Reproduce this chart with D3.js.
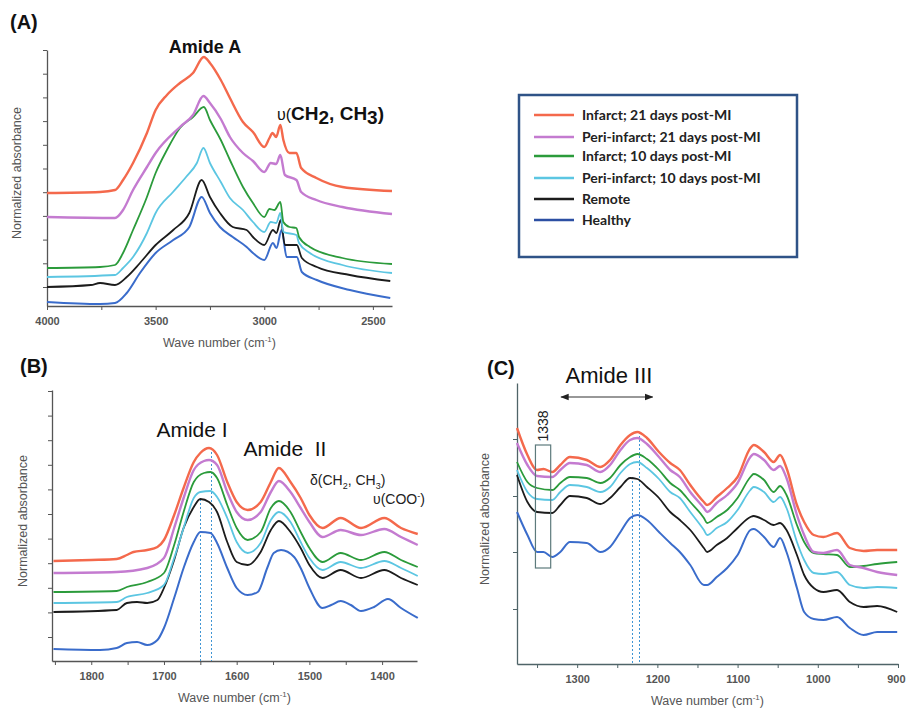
<!DOCTYPE html>
<html>
<head>
<meta charset="utf-8">
<script src="https://cdn.jsdelivr.net/npm/d3@7"></script>
<style>
  body { margin: 0; background: #fff; }
  svg { display: block; font-family: "Liberation Sans", Arial, sans-serif; }
</style>
</head>
<body>
<svg id="chart" width="906" height="713"></svg>
<script>
// series, top to bottom in the legend
const seriesNames = ["Infarct; 21 days post-MI", "Peri-infarct; 21 days post-MI", "Infarct; 10 days post-MI",
  "Peri-infarct; 10 days post-MI", "Remote", "Healthy"];
const seriesColors = ["#f4694c", "#c47bd0", "#2b9b3b", "#5cc6e2", "#1c1c1c", "#3a6ccb"];
const seriesWidths = [2.4, 2.4, 1.8, 1.8, 1.8, 2];

// ---- panel A, 4000-2400 cm-1 (wave number, normalized absorbance a.u.)
const infarct21A = [[4000,113],[3756,114],[3687,116],[3650,126],[3604,143],[3540,173],[3500,196],[3448,211],[3388,223],[3328,233],[3278,249],[3250,243],[3200,226],[3158,208],[3098,184],[3052,174],[3000,159],[2976,168],[2962,173],[2945,169],[2926,181],[2912,166],[2884,153],[2852,153],[2830,138],[2760,128],[2640,119],[2412,115]];
const peri21A = [[4000,89],[3687,88],[3650,96],[3604,116],[3540,139],[3500,153],[3388,179],[3328,191],[3280,210],[3250,203],[3200,187],[3158,169],[3098,153],[3052,145],[3000,134],[2970,143],[2945,142],[2926,151],[2905,131],[2852,126],[2830,114],[2760,106],[2640,99],[2412,92]];
const infarct10A = [[4000,38],[3756,39],[3687,41],[3650,53],[3604,76],[3540,109],[3500,133],[3448,156],[3388,178],[3328,189],[3278,199],[3250,186],[3200,166],[3158,146],[3098,119],[3052,103],[3000,89],[2976,97],[2953,96],[2926,104],[2912,84],[2884,79],[2852,78],[2840,69],[2790,59],[2640,48],[2412,42]];
const peri10A = [[4000,29],[3687,31],[3650,38],[3604,49],[3540,73],[3500,93],[3420,114],[3360,129],[3310,143],[3280,158],[3250,143],[3200,124],[3158,108],[3098,96],[3052,84],[3000,74],[2970,84],[2945,83],[2926,93],[2912,74],[2852,71],[2840,63],[2790,53],[2640,41],[2412,33]];
const remoteA = [[4000,19],[3798,21],[3756,23],[3687,21],[3633,29],[3572,43],[3500,61],[3419,76],[3345,93],[3288,126],[3250,109],[3204,93],[3145,79],[3081,76],[3052,69],[3000,61],[2960,76],[2944,73],[2924,86],[2905,61],[2850,61],[2827,48],[2758,39],[2606,31],[2420,25]];
const healthyA = [[4000,4],[3756,2],[3687,3],[3633,13],[3572,33],[3500,53],[3419,66],[3345,79],[3288,109],[3250,93],[3204,79],[3145,69],[3081,59],[3052,53],[3000,46],[2960,63],[2944,58],[2920,76],[2897,49],[2850,49],[2827,34],[2758,26],[2606,16],[2420,8]];

// ---- panel B, 1850-1350 cm-1
const infarct21B = [[1852,100],[1800,101],[1765,102],[1751,106],[1742,109],[1723,111],[1709,114],[1700,121],[1686,146],[1673,173],[1659,199],[1650,208],[1638,213],[1627,206],[1613,179],[1600,159],[1585,151],[1567,159],[1553,179],[1542,193],[1526,179],[1512,163],[1500,146],[1482,133],[1457,143],[1429,133],[1397,143],[1374,133],[1351,127]];
const peri21B = [[1852,88],[1765,89],[1723,93],[1700,103],[1686,133],[1673,163],[1659,191],[1645,200],[1638,201],[1627,196],[1613,169],[1600,149],[1585,141],[1567,149],[1553,169],[1542,180],[1526,169],[1512,153],[1500,139],[1482,124],[1457,131],[1429,126],[1397,132],[1374,124],[1351,116]];
const infarct10B = [[1852,69],[1765,70],[1751,74],[1723,79],[1700,88],[1686,116],[1673,149],[1659,179],[1645,188],[1636,189],[1627,183],[1613,156],[1600,133],[1585,121],[1567,129],[1553,153],[1542,160],[1526,149],[1512,129],[1500,113],[1482,99],[1457,108],[1429,101],[1397,109],[1374,101],[1351,94]];
const peri10B = [[1852,58],[1765,59],[1751,64],[1723,68],[1700,76],[1686,103],[1673,133],[1659,163],[1650,169],[1636,170],[1627,164],[1613,143],[1600,119],[1585,108],[1567,118],[1553,141],[1542,149],[1526,139],[1512,119],[1500,103],[1482,91],[1457,99],[1429,93],[1397,100],[1374,93],[1351,85]];
const remoteB = [[1852,49],[1765,51],[1751,58],[1737,59],[1723,58],[1709,61],[1700,73],[1686,101],[1673,133],[1659,154],[1650,162],[1638,159],[1627,149],[1613,119],[1600,99],[1585,96],[1567,109],[1553,131],[1542,140],[1526,129],[1512,113],[1500,96],[1482,83],[1457,91],[1429,83],[1397,91],[1374,83],[1351,76]];
const healthyB = [[1852,12],[1788,11],[1765,13],[1751,18],[1737,19],[1723,16],[1709,21],[1700,33],[1686,63],[1673,93],[1659,119],[1650,129],[1636,128],[1627,118],[1613,93],[1600,73],[1585,66],[1571,69],[1558,93],[1549,108],[1539,111],[1521,104],[1512,93],[1500,73],[1482,53],[1470,56],[1457,60],[1443,56],[1429,50],[1411,54],[1392,62],[1374,53],[1351,43]];

// ---- panel C, 1375-900 cm-1
const infarct21C = [[1375,236],[1362,209],[1350,194],[1342,195],[1331,192],[1321,199],[1309,207],[1288,204],[1271,197],[1259,204],[1246,219],[1234,229],[1225,232],[1213,226],[1198,212],[1184,201],[1172,194],[1159,179],[1142,162],[1138,159],[1126,167],[1113,176],[1100,187],[1084,216],[1080,219],[1067,212],[1055,202],[1047,209],[1039,196],[1026,159],[1017,142],[1005,129],[993,127],[976,131],[960,116],[943,113],[926,114],[901,114]];
const peri21C = [[1375,221],[1362,199],[1350,188],[1331,187],[1321,194],[1309,201],[1288,199],[1271,192],[1259,199],[1246,214],[1234,224],[1225,226],[1213,220],[1198,207],[1184,194],[1172,187],[1159,172],[1142,156],[1138,152],[1126,161],[1113,169],[1100,181],[1084,207],[1080,210],[1067,204],[1055,194],[1047,198],[1039,186],[1026,149],[1017,129],[1005,112],[993,111],[976,114],[960,99],[943,96],[926,92],[901,89]];
const infarct10C = [[1375,202],[1362,182],[1350,176],[1331,174],[1321,181],[1309,187],[1288,186],[1271,181],[1259,186],[1246,199],[1234,207],[1225,210],[1213,205],[1198,194],[1184,181],[1172,174],[1159,162],[1142,146],[1138,141],[1126,147],[1113,154],[1100,166],[1084,187],[1080,190],[1067,184],[1055,172],[1047,178],[1039,169],[1026,139],[1017,122],[1005,111],[993,110],[976,109],[960,97],[943,98],[926,100],[901,102]];
const peri10C = [[1375,194],[1362,172],[1350,165],[1331,164],[1321,172],[1309,179],[1288,177],[1271,172],[1259,177],[1246,191],[1234,200],[1225,202],[1213,196],[1198,185],[1184,172],[1172,166],[1159,152],[1142,134],[1138,129],[1126,136],[1113,142],[1100,154],[1084,174],[1080,177],[1067,172],[1055,162],[1047,167],[1039,156],[1026,122],[1017,104],[1005,91],[993,90],[976,92],[960,79],[943,76],[926,77],[901,76]];
const remoteC = [[1375,189],[1362,162],[1350,152],[1331,151],[1321,159],[1309,168],[1288,166],[1271,160],[1259,166],[1246,177],[1234,186],[1225,185],[1213,177],[1198,166],[1184,152],[1172,144],[1159,134],[1142,116],[1138,112],[1126,119],[1113,126],[1100,136],[1084,147],[1080,148],[1067,144],[1055,139],[1047,141],[1039,134],[1026,109],[1017,89],[1005,76],[993,72],[976,74],[960,62],[943,57],[926,58],[901,52]];
const healthyC = [[1375,152],[1362,129],[1350,112],[1342,112],[1331,107],[1321,112],[1309,122],[1288,121],[1271,112],[1259,117],[1246,132],[1234,146],[1225,149],[1213,144],[1198,132],[1184,121],[1172,112],[1159,99],[1142,79],[1138,79],[1126,87],[1113,96],[1100,109],[1084,134],[1080,135],[1067,127],[1055,117],[1047,126],[1039,112],[1026,76],[1017,52],[1005,45],[993,44],[976,47],[960,36],[943,29],[926,32],[901,32]];

// x tick labels
const xTicksA = [4000, 3500, 3000, 2500];
const xTicksB = [1800, 1700, 1600, 1500, 1400];
const xTicksC = [1300, 1200, 1100, 1000, 900];

// dotted peak markers [wave number, top absorbance]
const peakLinesB = [[1651, 162], [1635, 213]];
const peakLinesC = [[1232, 187], [1223, 232]];

const svg = d3.select("#chart");
const FONT = "'Liberation Sans', Arial, sans-serif";

function drawPanel(p) {
  const g = svg.append("g");
  const x = d3.scaleLinear().domain(p.xDomain).range([p.left, p.right]);
  const y = d3.scaleLinear().domain(p.yDomain).range([p.bottom, p.top]);

  // minor + major x ticks
  const xAll = d3.range(p.xDomain[0] - (p.xDomain[0] % p.minor), p.xDomain[1] - 1, -p.minor)
    .filter(v => v <= p.xDomain[0] && v >= p.xDomain[1]);
  const xAxis = g.append("g").attr("transform", `translate(0,${p.bottom})`)
    .call(d3.axisBottom(x).tickValues(xAll).tickSize(4).tickSizeOuter(0)
      .tickFormat(v => p.labels.includes(v) ? v : ""));
  xAxis.attr("font-family", FONT);
  xAxis.select(".domain").attr("stroke", p.axisColor).attr("stroke-width", 1.3);
  xAxis.selectAll(".tick line").attr("stroke", p.axisColor);
  xAxis.selectAll("text").attr("font-size", 11).attr("font-weight", "bold")
    .attr("fill", "#555").attr("dy", "1.05em");
  if (p.lastLabelEnd) {
    xAxis.selectAll(".tick").filter(v => v === p.labels[p.labels.length - 1])
      .select("text").attr("text-anchor", "end").attr("x", p.lastLabelEnd);
  }

  const yAxis = g.append("g").attr("transform", `translate(${p.left},0)`)
    .call(d3.axisLeft(y).tickValues(p.yTicks).tickSize(4).tickSizeOuter(0).tickFormat(""));
  yAxis.select(".domain").attr("stroke", p.axisColor).attr("stroke-width", 1.3);
  yAxis.selectAll(".tick line").attr("stroke", p.axisColor);

  const xt = g.append("text").attr("x", (p.left + p.right) / 2).attr("y", p.bottom + 41)
    .attr("text-anchor", "middle").attr("font-size", 12.5).attr("fill", "#555");
  xt.append("tspan").text("Wave number (cm");
  xt.append("tspan").attr("dy", -5).attr("font-size", 8).text("-1");
  xt.append("tspan").attr("dy", 5).text(")");

  g.append("text")
    .attr("transform", `translate(${p.ylabX},${p.ylabY}) rotate(-90)`)
    .attr("text-anchor", "middle").attr("font-size", 12.5).attr("fill", "#555")
    .text(p.ylab);

  // peak markers
  (p.peaks || []).forEach(pk => {
    const px = Math.round(x(pk[0])) + 0.5;
    g.append("line").attr("x1", px).attr("x2", px)
      .attr("y1", y(pk[1])).attr("y2", p.bottom)
      .attr("stroke", "#3f95d4").attr("stroke-width", 1).attr("stroke-dasharray", "2,2");
  });

  const line = d3.line().x(d => x(d[0])).y(d => y(d[1])).curve(d3.curveMonotoneX);
  const series = p.data.map((d, i) => ({ d, i })).reverse();
  g.selectAll("path.spec").data(series).join("path").attr("class", "spec")
    .attr("d", s => line(s.d)).attr("fill", "none")
    .attr("stroke", s => seriesColors[s.i]).attr("stroke-width", s => seriesWidths[s.i])
    .attr("stroke-linejoin", "round");

  g.append("text").attr("x", p.tagX).attr("y", p.tagY).attr("font-size", 20)
    .attr("font-weight", "bold").attr("fill", "#111").text(p.tag);
  return { g, x, y };
}

// ---- A
const A = drawPanel({
  xDomain: [4000, 2412], yDomain: [0, 256], left: 47, right: 392, top: 50, bottom: 306,
  minor: 250, labels: xTicksA, yTicks: d3.range(11).map(k => 19 + k * 23.7),
  axisColor: "#555", ylab: "Normalized absorbance", ylabX: 21, ylabY: 173,
  data: [infarct21A, peri21A, infarct10A, peri10A, remoteA, healthyA], tag: "(A)", tagX: 10, tagY: 29
});
A.g.append("text").attr("x", 205).attr("y", 53).attr("text-anchor", "middle")
  .attr("font-size", 18).attr("font-weight", "bold").attr("fill", "#111").text("Amide A");
const ch = A.g.append("text").attr("x", 277).attr("y", 120).attr("fill", "#111");
ch.append("tspan").attr("font-size", 16).text("υ(");
ch.append("tspan").attr("font-size", 19).attr("font-weight", "bold").text("CH");
ch.append("tspan").attr("font-size", 19).attr("font-weight", "bold").attr("dy", 4).text("2");
ch.append("tspan").attr("font-size", 19).attr("font-weight", "bold").attr("dy", -4).text(", CH");
ch.append("tspan").attr("font-size", 19).attr("font-weight", "bold").attr("dy", 4).text("3");
ch.append("tspan").attr("font-size", 19).attr("font-weight", "bold").attr("dy", -4).text(")");

// ---- B
const B = drawPanel({
  xDomain: [1854, 1352], yDomain: [0, 271], left: 52, right: 417, top: 390, bottom: 661,
  minor: 50, labels: xTicksB, yTicks: d3.range(11).map(k => 24 + k * 24.6),
  axisColor: "#555", ylab: "Normalized absorbance", ylabX: 27, ylabY: 521,
  data: [infarct21B, peri21B, infarct10B, peri10B, remoteB, healthyB], peaks: peakLinesB,
  tag: "(B)", tagX: 20, tagY: 373
});
B.g.append("text").attr("x", 192).attr("y", 437).attr("text-anchor", "middle")
  .attr("font-size", 21).attr("fill", "#111").text("Amide I");
B.g.append("text").attr("x", 285).attr("y", 456).attr("text-anchor", "middle")
  .attr("font-size", 21).attr("fill", "#111").attr("xml:space", "preserve").text("Amide  II");
const dl = B.g.append("text").attr("x", 310).attr("y", 485).attr("font-size", 14).attr("fill", "#222");
dl.append("tspan").text("δ(CH");
dl.append("tspan").attr("font-size", 9).attr("dy", 4).text("2");
dl.append("tspan").attr("dy", -4).text(", CH");
dl.append("tspan").attr("font-size", 9).attr("dy", 4).text("3");
dl.append("tspan").attr("dy", -4).text(")");
const co = B.g.append("text").attr("x", 373).attr("y", 504).attr("font-size", 14).attr("fill", "#222");
co.append("tspan").text("υ(COO");
co.append("tspan").attr("font-size", 9).attr("dy", -5).text("-");
co.append("tspan").attr("dy", 5).text(")");

// ---- C
const C = drawPanel({
  xDomain: [1375, 900], yDomain: [0, 281], left: 517, right: 898, top: 383, bottom: 664,
  minor: 50, labels: xTicksC, yTicks: [55, 112, 168, 225], lastLabelEnd: 7,
  axisColor: "#4f6468", ylab: "Normalized abosrbance", ylabX: 489, ylabY: 519,
  data: [infarct21C, peri21C, infarct10C, peri10C, remoteC, healthyC], peaks: peakLinesC,
  tag: "(C)", tagX: 487, tagY: 375
});
C.g.append("text").attr("x", 609).attr("y", 383).attr("text-anchor", "middle")
  .attr("font-size", 22).attr("fill", "#111").text("Amide III");
svg.append("defs").append("marker").attr("id", "arr").attr("viewBox", "0 0 10 10")
  .attr("refX", 9).attr("refY", 5).attr("markerWidth", 7).attr("markerHeight", 7)
  .attr("orient", "auto-start-reverse")
  .append("path").attr("d", "M0,1 L10,5 L0,9 z").attr("fill", "#222");
C.g.append("line").attr("x1", C.x(1320)).attr("x2", C.x(1206)).attr("y1", 397).attr("y2", 397)
  .attr("stroke", "#333").attr("stroke-width", 1.2)
  .attr("marker-start", "url(#arr)").attr("marker-end", "url(#arr)");
C.g.append("rect").attr("x", C.x(1352)).attr("y", C.y(219))
  .attr("width", C.x(1333) - C.x(1352)).attr("height", C.y(96) - C.y(219))
  .attr("fill", "none").attr("stroke", "#5d7a7c").attr("stroke-width", 1.2);
C.g.append("text").attr("transform", `translate(${C.x(1342) + 5},${426}) rotate(-90)`)
  .attr("text-anchor", "middle").attr("font-size", 14).attr("fill", "#222").text("1338");

// ---- legend
const lg = svg.append("g");
lg.append("rect").attr("x", 519).attr("y", 95).attr("width", 278).attr("height", 162)
  .attr("fill", "#fff").attr("stroke", "#2f5387").attr("stroke-width", 2.5);
const rowY = [115, 137, 156, 178, 199, 220];
seriesNames.forEach((n, i) => {
  lg.append("line").attr("x1", 534).attr("x2", 574).attr("y1", rowY[i]).attr("y2", rowY[i])
    .attr("stroke", i === 5 ? "#2c4fa3" : seriesColors[i]).attr("stroke-width", 2.5);
  lg.append("text").attr("x", 582).attr("y", rowY[i] + 5).attr("font-family", "Lato, sans-serif")
    .attr("font-weight", "bold").attr("font-size", 14).attr("fill", "#222").text(n);
});
</script>
</body>
</html>
